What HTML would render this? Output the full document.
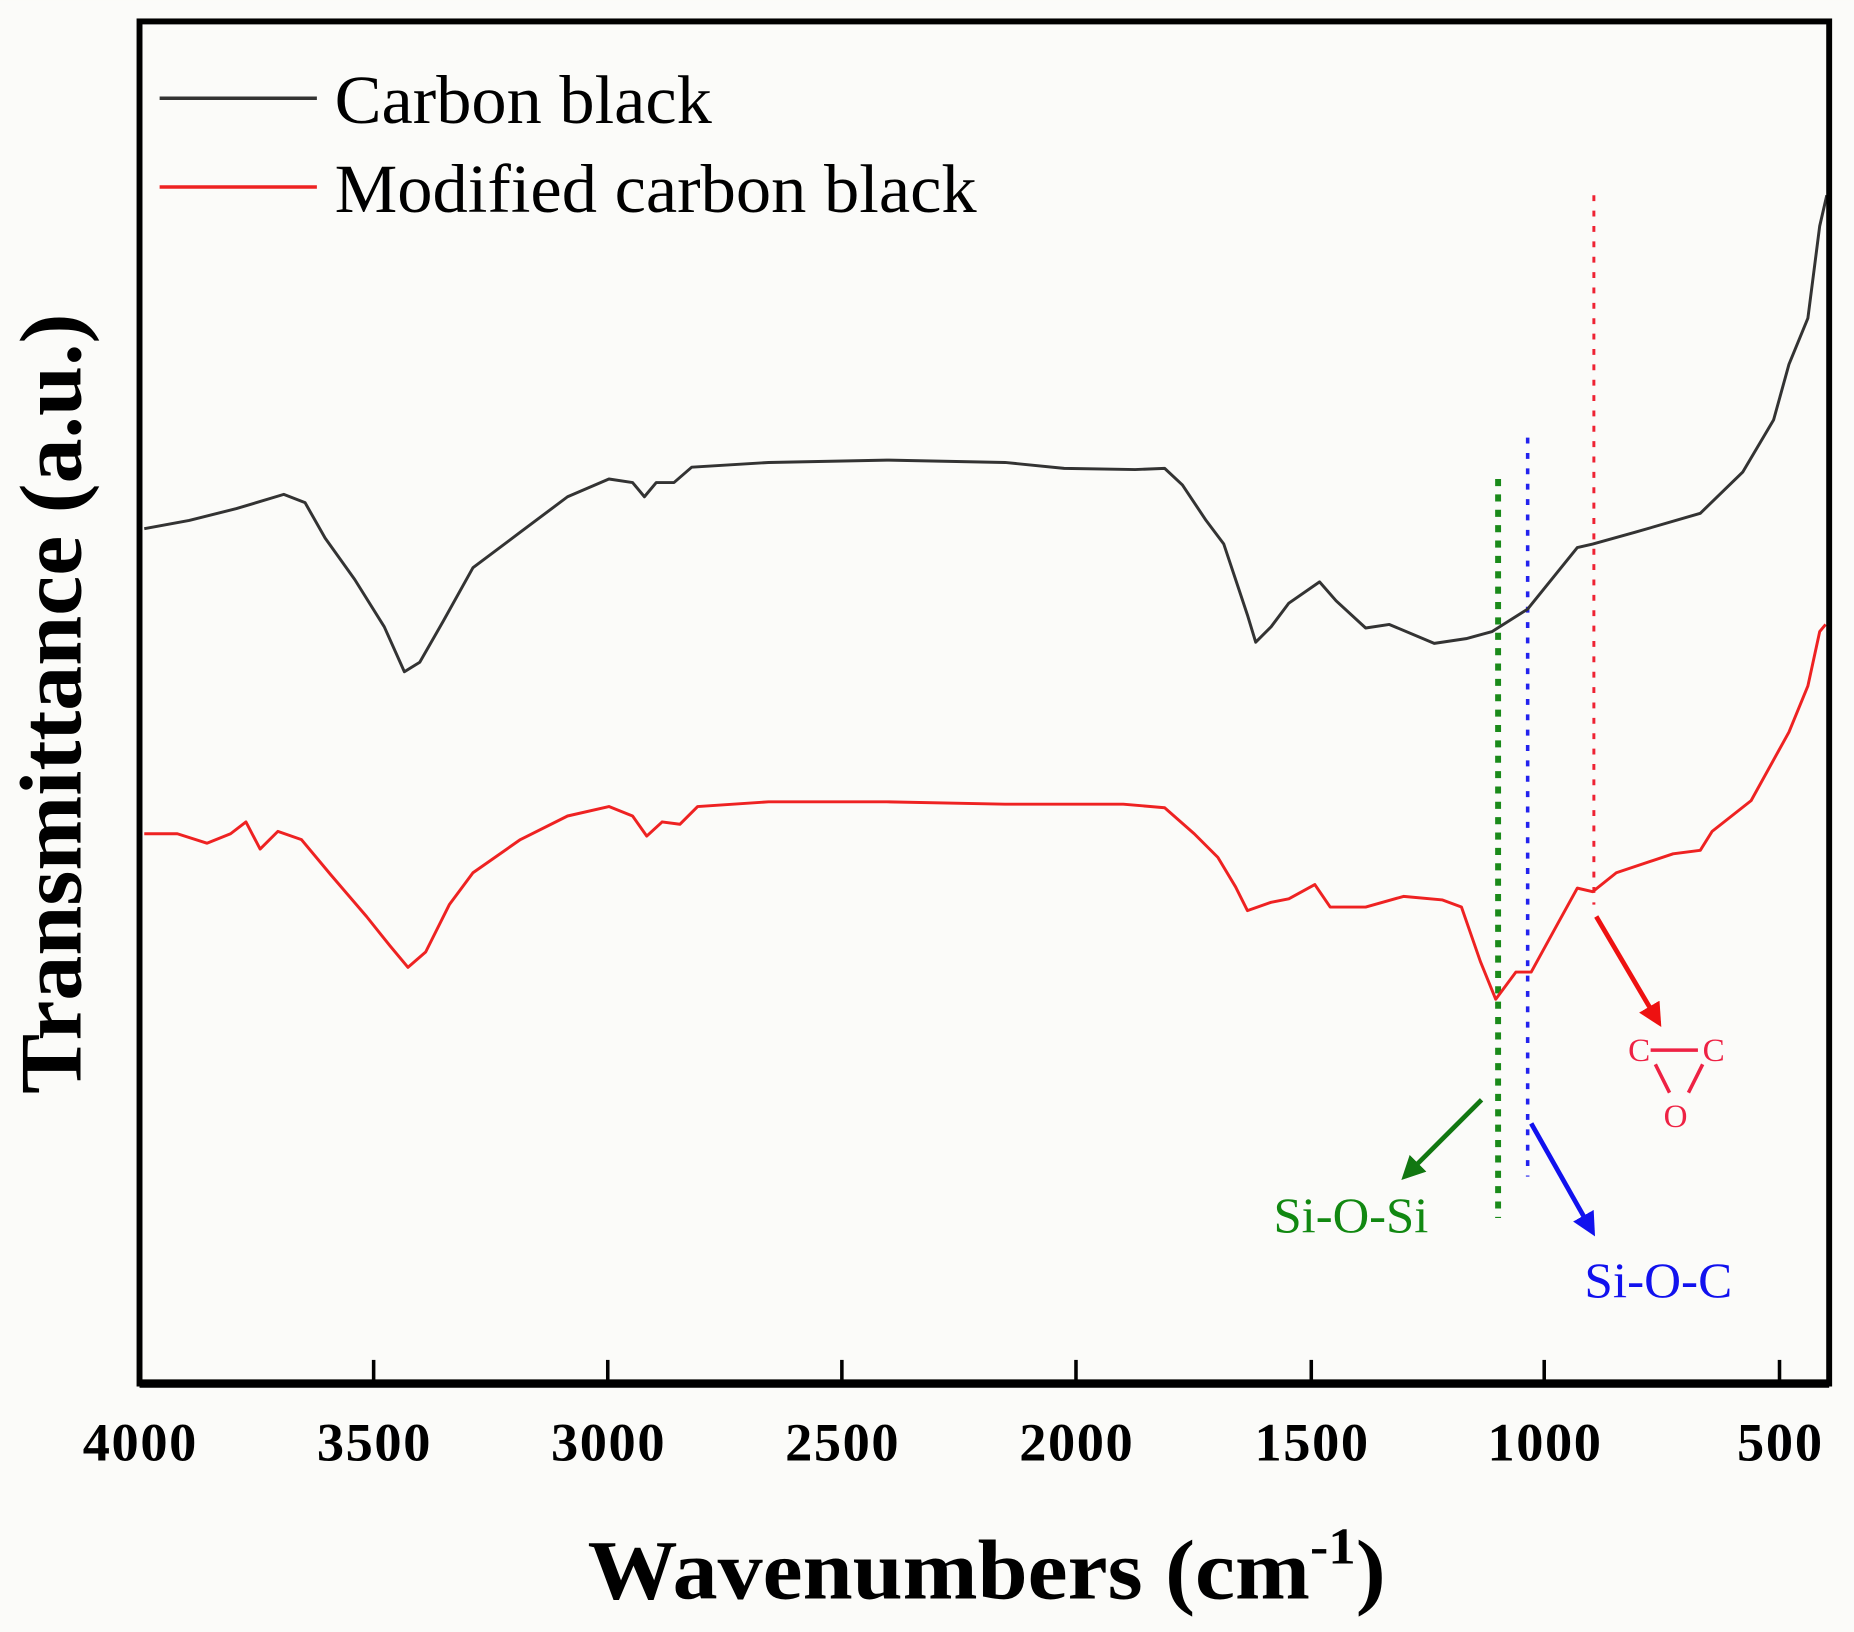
<!DOCTYPE html>
<html><head><meta charset="utf-8"><style>
html,body{margin:0;padding:0;background:#fbfbf9;}
svg{display:block;}
text{font-family:"Liberation Serif",serif;}
</style></head><body>
<svg width="1854" height="1632" viewBox="0 0 1568 1380" xmlns="http://www.w3.org/2000/svg">
<rect width="1568" height="1380" fill="#fbfbf9"/>
<line x1="1267" y1="405" x2="1267" y2="1030" stroke="#1a8a1a" stroke-width="5" stroke-dasharray="6,7"/>
<line x1="1292" y1="370" x2="1292" y2="995" stroke="#2222ee" stroke-width="3" stroke-dasharray="5,8"/>
<line x1="1348" y1="165" x2="1348" y2="765" stroke="#ee2233" stroke-width="2.5" stroke-dasharray="5,8"/>
<polyline fill="none" stroke="#333" stroke-width="2.5" stroke-linejoin="round" points="122,447 160,440 200,430 240,418 258,425 275,455 300,490 325,530 342,568 355,560 375,525 400,480 440,450 480,420 515,405 535,408 545,420 555,408 570,408 585,395 650,391 750,389 850,391 900,396 960,397 985,396 1000,410 1020,440 1035,460 1045,490 1055,520 1062,543 1075,530 1090,510 1116,492 1130,508 1155,531 1175,528 1213,544 1240,540 1262,534 1292,515 1334,463 1347,460 1383,450 1438,434 1474,399 1500,355 1513,308 1529,269 1539,191 1545,165"/>
<polyline fill="none" stroke="#ee2222" stroke-width="2.5" stroke-linejoin="round" points="122,705 150,705 175,713 195,705 208,695 220,718 235,703 255,710 280,740 310,775 330,800 345,818 360,805 380,765 400,738 440,710 480,690 515,682 535,690 547,707 560,695 575,697 590,682 650,678 750,678 850,680 950,680 985,683 1010,705 1030,725 1045,750 1055,770 1075,763 1090,760 1112,748 1125,767 1155,767 1187,758 1220,761 1236,767 1252,813 1265,845 1282,822 1295,822 1318,780 1334,751 1347,754 1367,738 1415,722 1438,719 1448,703 1481,677 1513,619 1529,580 1539,534 1544,528"/>
<defs>
<marker id="ar" viewBox="0 0 10 10" refX="8" refY="5" markerWidth="5" markerHeight="5" orient="auto"><path d="M0,0L10,5L0,10z" fill="#ee1111"/></marker>
<marker id="ag" viewBox="0 0 10 10" refX="8" refY="5" markerWidth="5" markerHeight="5" orient="auto"><path d="M0,0L10,5L0,10z" fill="#117711"/></marker>
<marker id="ab" viewBox="0 0 10 10" refX="8" refY="5" markerWidth="5" markerHeight="5" orient="auto"><path d="M0,0L10,5L0,10z" fill="#1111ee"/></marker>
</defs>
<line x1="1350" y1="775" x2="1403" y2="865" stroke="#ee1111" stroke-width="4" marker-end="url(#ar)"/>
<line x1="1253" y1="930" x2="1188" y2="995" stroke="#117711" stroke-width="4" marker-end="url(#ag)"/>
<line x1="1295" y1="950" x2="1347" y2="1042" stroke="#1111ee" stroke-width="4" marker-end="url(#ab)"/>
<text x="1077" y="1042" font-size="42" fill="#118811" textLength="131" lengthAdjust="spacingAndGlyphs">Si-O-Si</text>
<text x="1340" y="1097" font-size="42" fill="#1111ee" textLength="125" lengthAdjust="spacingAndGlyphs">Si-O-C</text>
<g fill="#ee2244" font-size="28">
<text x="1377" y="897">C</text><text x="1440" y="897">C</text><text x="1407" y="953">O</text>
</g>
<g stroke="#ee2244" stroke-width="3">
<line x1="1396" y1="888" x2="1436" y2="888"/>
<line x1="1400" y1="900" x2="1412" y2="924"/>
<line x1="1440" y1="900" x2="1428" y2="924"/>
</g>
<rect x="118" y="18" width="1429" height="1152" fill="none" stroke="#000" stroke-width="5"/>
<line x1="118" y1="1170" x2="1547" y2="1170" stroke="#000" stroke-width="7"/>
<g stroke="#000" stroke-width="3">
<line x1="316" y1="1170" x2="316" y2="1150"/><line x1="514" y1="1170" x2="514" y2="1150"/>
<line x1="712" y1="1170" x2="712" y2="1150"/><line x1="910" y1="1170" x2="910" y2="1150"/>
<line x1="1109" y1="1170" x2="1109" y2="1150"/><line x1="1306" y1="1170" x2="1306" y2="1150"/>
<line x1="1505" y1="1170" x2="1505" y2="1150"/>
</g>
<g font-size="46" font-weight="bold" text-anchor="middle" fill="#000" lengthAdjust="spacingAndGlyphs">
<text x="118" y="1235" textLength="96">4000</text><text x="316" y="1235" textLength="96">3500</text><text x="514" y="1235" textLength="96">3000</text>
<text x="712" y="1235" textLength="96">2500</text><text x="910" y="1235" textLength="96">2000</text><text x="1109" y="1235" textLength="96">1500</text>
<text x="1306" y="1235" textLength="96">1000</text><text x="1505" y="1235" textLength="72">500</text>
</g>
<text x="497" y="1352" font-size="72" font-weight="bold" textLength="675" lengthAdjust="spacingAndGlyphs">Wavenumbers (cm<tspan dy="-30" font-size="44">-1</tspan><tspan dy="30">)</tspan></text>
<text transform="translate(68,595) rotate(-90)" font-size="74" font-weight="bold" text-anchor="middle" textLength="660" lengthAdjust="spacingAndGlyphs">Transmittance (a.u.)</text>
<line x1="135" y1="83" x2="268" y2="83" stroke="#333" stroke-width="3"/>
<text x="283" y="104" font-size="58" textLength="319" lengthAdjust="spacingAndGlyphs">Carbon black</text>
<line x1="135" y1="158" x2="268" y2="158" stroke="#ee2222" stroke-width="3"/>
<text x="283" y="179" font-size="58" textLength="543" lengthAdjust="spacingAndGlyphs">Modified carbon black</text>
</svg>
</body></html>
